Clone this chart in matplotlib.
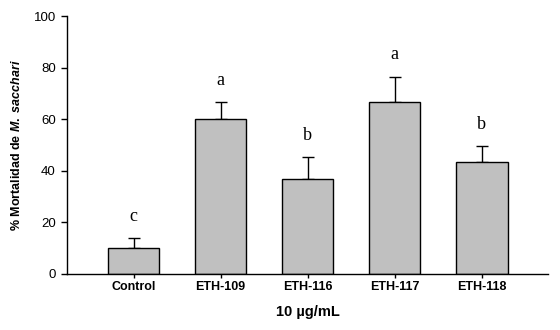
import numpy as np
import matplotlib
matplotlib.use('Agg')
import matplotlib.pyplot as plt

categories = ['Control', 'ETH-109', 'ETH-116', 'ETH-117', 'ETH-118']
mortality = [10.0, 60.0, 36.8, 66.5, 43.3]
errors = [3.8, 6.5, 8.4, 9.9, 6.2]
letters = ['c', 'a', 'b', 'a', 'b']

plt.rcParams['font.family'] = ['Liberation Sans', 'DejaVu Sans']
plt.rcParams['mathtext.fontset'] = 'custom'
plt.rcParams['mathtext.rm'] = 'Liberation Sans:bold'
plt.rcParams['mathtext.it'] = 'Liberation Sans:italic:bold'
plt.rcParams['mathtext.bf'] = 'Liberation Sans:bold'

fig = plt.figure(figsize=(5.6, 3.3), dpi=100)
ax = fig.add_axes([0.1196, 0.1697, 0.859, 0.7818])

x = np.arange(len(categories))
ax.bar(x, mortality, width=0.59, color='#c0c0c0', edgecolor='black',
       linewidth=1.0, zorder=2)
ax.errorbar(x, mortality, yerr=[np.zeros(len(x)), errors], fmt='none',
            ecolor='black', elinewidth=1.0, capsize=4.3, capthick=1.0,
            zorder=1)

for xi, m, e, lab in zip(x, mortality, errors, letters):
    ax.text(xi, m + e + 8.5, lab, ha='center', va='center',
            family=['Liberation Serif', 'DejaVu Serif'], fontsize=13)

ax.set_xlim(-0.764, 4.76)
ax.set_ylim(0, 100)
ax.set_yticks(range(0, 101, 20))
ax.set_xticks(x)
ax.set_xticklabels(categories, fontweight='bold', fontsize=9)
ax.tick_params(axis='y', labelsize=9.5, length=4, width=1, direction='out',
               pad=4)
ax.tick_params(axis='x', length=3, width=1, direction='out', pad=2)

for side in ['top', 'right']:
    ax.spines[side].set_visible(False)
for side in ['left', 'bottom']:
    ax.spines[side].set_linewidth(1.0)

ax.set_ylabel(r'% Mortalidad de $\mathit{M.}$ $\mathit{sacchari}$',
              fontweight='bold', fontsize=9, labelpad=8)
ax.set_xlabel('10 µg/mL', fontweight='bold', fontsize=10.5, labelpad=9)

fig.savefig('out.png', dpi=100)
